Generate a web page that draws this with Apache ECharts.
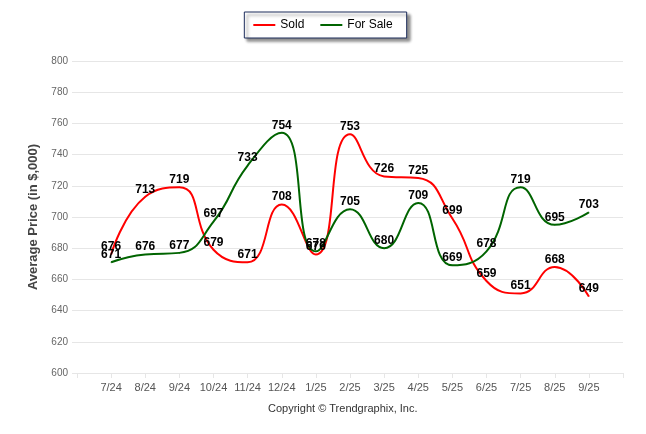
<!DOCTYPE html>
<html>
<head>
<meta charset="utf-8">
<script src="https://cdn.jsdelivr.net/npm/echarts@6/dist/echarts.min.js"></script>
<style>html,body{margin:0;padding:0;background:#fff;}#c{width:646px;height:434px;}</style>
</head>
<body>
<div id="c"></div>
<script>
var categories = ['7/24','8/24','9/24','10/24','11/24','12/24','1/25','2/25','3/25','4/25','5/25','6/25','7/25','8/25','9/25'];
var soldValues = [676, 713, 719, 679, 671, 708, 676, 753, 726, 725, 699, 659, 651, 668, 649];
var forSaleValues = [671, 676, 677, 697, 733, 754, 678, 705, 680, 709, 669, 678, 719, 695, 703];
var yTicks = {min: 600, max: 800, interval: 20};

var axisCats = [''].concat(categories).concat(['']);
function pad(arr){ return ['-'].concat(arr).concat(['-']); }

var chart = echarts.init(document.getElementById('c'));
var labelStyle = {show: true, position: 'top', distance: 1, color: '#000', fontWeight: 'bold', fontSize: 12, fontFamily: 'Liberation Sans, Arial, sans-serif'};
chart.setOption({
  animation: false,
  textStyle: {fontFamily: 'Liberation Sans, Arial, sans-serif'},
  legend: {
    top: 12, left: 'center',
    data: ['Sold', 'For Sale'],
    icon: 'rect', itemWidth: 22, itemHeight: 2, itemGap: 16,
    padding: [7, 14, 7, 9],
    backgroundColor: '#fff',
    borderColor: '#1c2c5b', borderWidth: 1,
    shadowColor: 'rgba(0,0,0,0.45)', shadowBlur: 3, shadowOffsetX: 3, shadowOffsetY: 3,
    textStyle: {fontSize: 12, color: '#000', fontFamily: 'Liberation Sans, Arial, sans-serif'}
  },
  grid: {left: 77, right: 23, top: 61, bottom: 61, containLabel: false},
  xAxis: {
    type: 'category', data: axisCats, boundaryGap: false,
    axisLine: {lineStyle: {color: '#e6e6e6'}},
    axisTick: {show: true, length: 5, lineStyle: {color: '#e6e6e6'}},
    axisLabel: {color: '#555', fontSize: 11, margin: 9, interval: 0},
    splitLine: {show: false}
  },
  yAxis: {
    type: 'value', min: yTicks.min, max: yTicks.max, interval: yTicks.interval,
    name: 'Average Price (in $,000)', nameLocation: 'middle', nameGap: 34,
    nameTextStyle: {fontSize: 13, fontWeight: 'bold', color: '#444'},
    axisLine: {show: false},
    axisTick: {show: true, length: 5, lineStyle: {color: '#e6e6e6'}},
    axisLabel: {color: '#666', fontSize: 10, margin: 9},
    splitLine: {lineStyle: {color: '#e6e6e6'}}
  },
  series: [
    {name: 'Sold', type: 'line', data: pad(soldValues), smooth: 0.5, showSymbol: true, symbol: 'circle', symbolSize: 1,
     lineStyle: {color: '#ff0000', width: 2}, itemStyle: {color: '#ff0000'}, label: labelStyle},
    {name: 'For Sale', type: 'line', data: pad(forSaleValues), smooth: 0.5, showSymbol: true, symbol: 'circle', symbolSize: 1,
     lineStyle: {color: '#006400', width: 2}, itemStyle: {color: '#006400'}, label: labelStyle}
  ],
  graphic: [{
    type: 'text', left: 268, top: 403,
    style: {text: 'Copyright \u00a9 Trendgraphix, Inc.', fontSize: 11, fill: '#333', fontFamily: 'Liberation Sans, Arial, sans-serif'}
  }]
});
</script>
</body>
</html>
